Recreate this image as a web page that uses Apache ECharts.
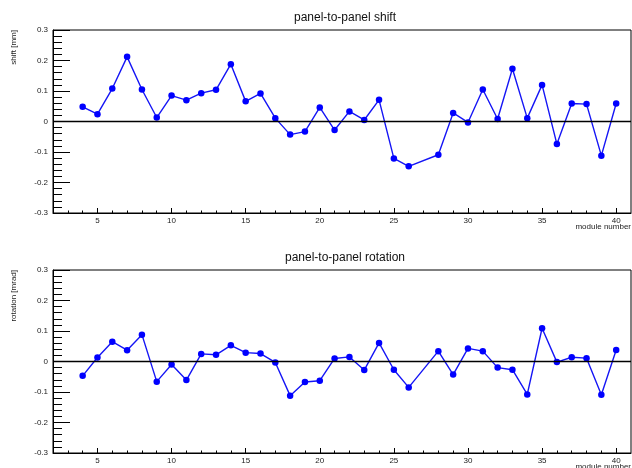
<!DOCTYPE html>
<html>
<head>
<meta charset="utf-8">
<script src="https://cdn.jsdelivr.net/npm/echarts@6/dist/echarts.min.js"></script>
<style>html,body{margin:0;padding:0;background:#fff}#c{width:632px;height:468px}</style>
</head>
<body>
<div id="c"></div>
<script>
const modules = [4,5,6,7,8,9,10,11,12,13,14,15,16,17,18,19,20,21,22,23,24,25,26,28,29,30,31,32,33,34,35,36,37,38,39,40];
const shiftValues = [0.048,0.024,0.108,0.212,0.105,0.013,0.085,0.070,0.093,0.104,0.188,0.066,0.092,0.011,-0.043,-0.033,0.046,-0.028,0.033,0.005,0.071,-0.121,-0.147,-0.109,0.028,-0.003,0.105,0.008,0.173,0.011,0.120,-0.074,0.059,0.057,-0.112,0.059];
const rotationValues = [-0.047,0.013,0.065,0.037,0.088,-0.066,-0.010,-0.061,0.025,0.022,0.053,0.029,0.026,-0.003,-0.112,-0.067,-0.063,0.010,0.015,-0.028,0.061,-0.027,-0.085,0.034,-0.043,0.043,0.034,-0.020,-0.027,-0.108,0.109,-0.002,0.014,0.011,-0.109,0.038];
const titles = ['panel-to-panel shift','panel-to-panel rotation'];
const yNames = ['shift [mm]','rotation [mrad]'];
const xName = 'module number';
const xMajor = [5,10,15,20,25,30,35,40];
const xMinor = [3,4,6,7,8,9,11,12,13,14,16,17,18,19,21,22,23,24,26,27,28,29,31,32,33,34,36,37,38,39];

const FONT = 'Liberation Sans, Arial, Helvetica, sans-serif';
const chart = echarts.init(document.getElementById('c'));
const gridTops = [30, 270];
const GH = 183, GL = 53, GW = 578;

const grids = [], xAxes = [], yAxes = [], series = [], titleComps = [], graphics = [];
[shiftValues, rotationValues].forEach((vals, i) => {
  grids.push({left: GL, top: gridTops[i], width: GW, height: GH, show: true, borderColor: '#000', borderWidth: 1, backgroundColor: 'transparent'});
  xAxes.push({
    type: 'value', gridIndex: i, min: 2, max: 41, position: 'bottom',
    axisLine: {show: true, onZero: false, lineStyle: {color: '#000', width: 1}},
    axisTick: {show: true, inside: true, length: 5, customValues: xMajor, lineStyle: {color: '#000'}},
    axisLabel: {show: true, customValues: xMajor, fontSize: 8, color: '#222', fontFamily: FONT, margin: 4},
    splitLine: {show: false}
  });
  xAxes.push({
    type: 'value', gridIndex: i, min: 2, max: 41, position: 'bottom',
    axisLine: {show: false, onZero: false},
    axisTick: {show: true, inside: true, length: 2.5, customValues: xMinor, lineStyle: {color: '#000'}},
    axisLabel: {show: false},
    splitLine: {show: false}
  });
  yAxes.push({
    type: 'value', gridIndex: i, min: -0.3, max: 0.3, interval: 0.1,
    axisLine: {show: true, onZero: false, lineStyle: {color: '#000', width: 1}},
    axisTick: {show: true, inside: true, length: 17, lineStyle: {color: '#000'}},
    minorTick: {show: true, splitNumber: 5, length: 9, lineStyle: {color: '#000'}},
    axisLabel: {fontSize: 8, color: '#222', fontFamily: FONT, margin: 5,
      formatter: v => { const r = Math.round(v * 10) / 10; return r === 0 ? '0' : String(r); }},
    splitLine: {show: false}
  });
  series.push({
    type: 'line', xAxisIndex: i * 2, yAxisIndex: i,
    data: modules.map((m, k) => [m, vals[k]]),
    symbol: 'circle', symbolSize: 6.5,
    itemStyle: {color: '#0000ff'},
    lineStyle: {color: '#1515f5', width: 1.4},
    animation: false,
    markLine: {silent: true, symbol: ['none','none'], label: {show: false},
      lineStyle: {color: '#000', width: 1.4, type: 'solid'}, data: [{yAxis: 0}], animation: false},
    z: 3
  });
  titleComps.push({text: titles[i], left: 340, top: gridTops[i] - 23, textAlign: 'center',
    textStyle: {fontSize: 12, fontWeight: 'normal', color: '#111', fontFamily: FONT}});
  graphics.push({type: 'text', x: 10, y: gridTops[i], rotation: Math.PI / 2,
    style: {text: yNames[i], fontSize: 8, fill: '#222', fontFamily: FONT, align: 'right', verticalAlign: 'top'}});
  graphics.push({type: 'text', x: 631, y: gridTops[i] + GH + 10,
    style: {text: xName, fontSize: 8, fill: '#222', fontFamily: FONT, align: 'right', verticalAlign: 'top'}});
});

chart.setOption({
  animation: false,
  title: titleComps,
  grid: grids,
  xAxis: xAxes,
  yAxis: yAxes,
  series: series,
  graphic: graphics
});
</script>
</body>
</html>
